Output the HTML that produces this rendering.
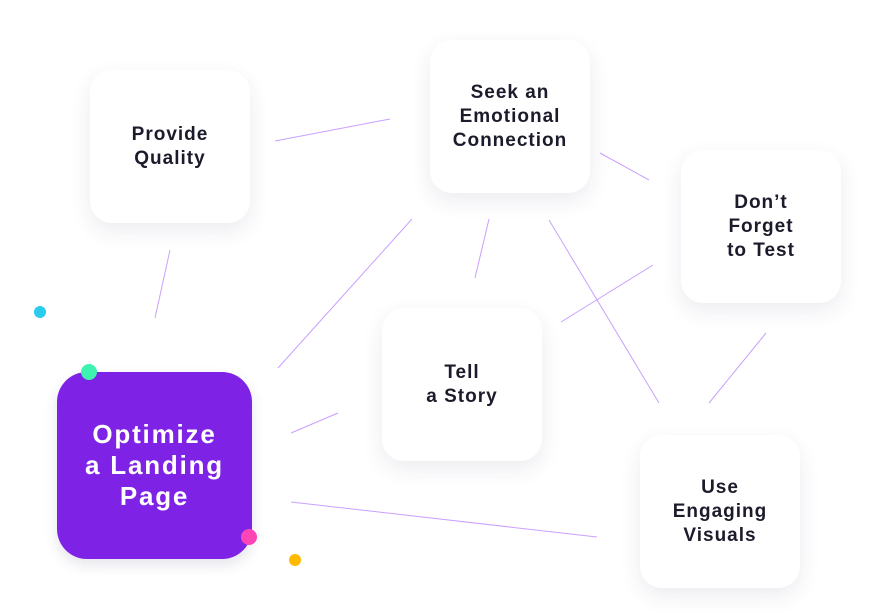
<!DOCTYPE html>
<html><head><meta charset="utf-8"><style>
html,body{margin:0;padding:0;background:#fff;}
body{width:895px;height:613px;position:relative;overflow:hidden;font-family:"Liberation Sans",Arial,sans-serif;}
svg{position:absolute;left:0;top:0;}
.b{position:absolute;width:160px;height:153px;background:#fff;border-radius:22px;box-shadow:0 8px 22px rgba(40,40,90,0.09);display:flex;align-items:center;justify-content:center;text-align:center;color:#1b1b2b;font-weight:bold;font-size:19px;line-height:24px;letter-spacing:1px;}
.m{position:absolute;left:57px;top:372px;width:195px;height:187px;background:#7e22e6;border-radius:30px;box-shadow:0 6px 14px rgba(40,40,90,0.12);display:flex;align-items:center;justify-content:center;text-align:center;color:#fff;font-weight:bold;font-size:26px;line-height:31px;letter-spacing:1.8px;}
.d{position:absolute;border-radius:50%;}
</style></head><body>
<svg width="895" height="613" viewBox="0 0 895 613">
<g stroke="#c9a0ff" stroke-width="1" fill="none">
<line x1="275" y1="141" x2="390" y2="119"/>
<line x1="170" y1="250" x2="155" y2="318"/>
<line x1="412" y1="219" x2="278" y2="368"/>
<line x1="489" y1="219" x2="475" y2="278"/>
<line x1="549" y1="220" x2="659" y2="403"/>
<line x1="600" y1="153" x2="649" y2="180"/>
<line x1="653" y1="265" x2="561" y2="322"/>
<line x1="766" y1="333" x2="709" y2="403"/>
<line x1="338" y1="413" x2="291" y2="433"/>
<line x1="291" y1="502" x2="597" y2="537"/>
</g>
</svg>
<div class="b" style="left:90px;top:70px;">Provide<br>Quality</div>
<div class="b" style="left:430px;top:40px;">Seek an<br>Emotional<br>Connection</div>
<div class="b" style="left:681px;top:150px;">Don’t<br>Forget<br>to Test</div>
<div class="b" style="left:382px;top:308px;">Tell<br>a Story</div>
<div class="b" style="left:640px;top:435px;">Use<br>Engaging<br>Visuals</div>
<div class="m">Optimize<br>a Landing<br>Page</div>
<div class="d" style="left:34px;top:306px;width:12px;height:12px;background:#2bcbee;"></div>
<div class="d" style="left:81px;top:364px;width:16px;height:16px;background:#3ef3b0;"></div>
<div class="d" style="left:241px;top:529px;width:16px;height:16px;background:#fc46b6;"></div>
<div class="d" style="left:289px;top:554px;width:12px;height:12px;background:#ffba00;"></div>
</body></html>
